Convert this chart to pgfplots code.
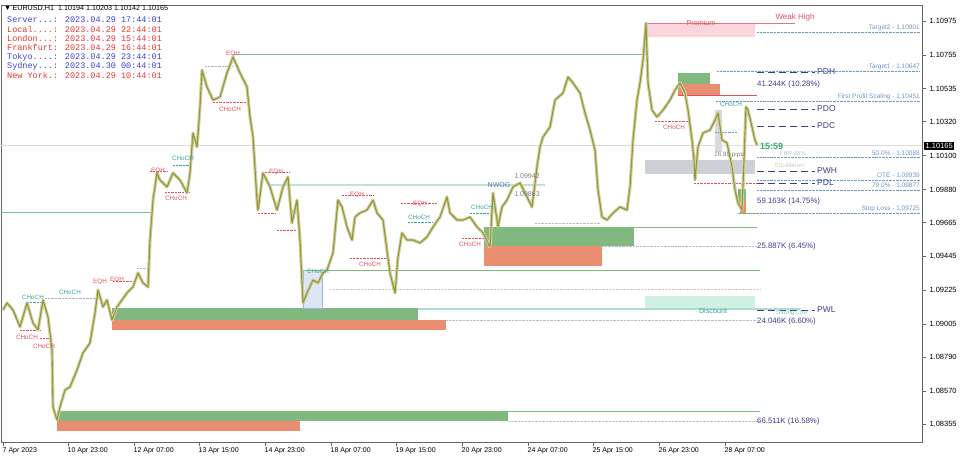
\documentclass[border=0pt]{standalone}
\usepackage{fontspec}
\setmainfont{Liberation Sans}
\newfontfamily\monof{Liberation Mono}
\usepackage{pgfplots}
\pgfplotsset{compat=1.18}
\definecolor{candle}{RGB}{150,150,55}
\definecolor{zgreen}{RGB}{128,184,128}
\definecolor{zsalmon}{RGB}{234,142,114}
\definecolor{zpink}{RGB}{250,214,220}
\definecolor{zmint}{RGB}{208,240,225}
\definecolor{zgrey}{RGB}{205,209,215}
\definecolor{zblue}{RGB}{220,230,245}
\definecolor{lteal}{RGB}{110,190,175}
\definecolor{lgreen}{RGB}{120,190,120}
\definecolor{lred}{RGB}{225,80,95}
\definecolor{tealtxt}{RGB}{50,165,155}
\definecolor{steel}{RGB}{110,150,200}
\definecolor{pdblue}{RGB}{60,60,140}
\definecolor{srvblue}{RGB}{60,60,230}
\definecolor{srvred}{RGB}{235,50,50}
\definecolor{clockgreen}{RGB}{50,170,100}
\newcommand{\zone}[5]{\addplot[draw=none,fill=#5,forget plot] coordinates {(#1,#2) (#3,#2) (#3,#4) (#1,#4)} -- cycle;}
\newcommand{\hl}[4]{\addplot[#4,forget plot] coordinates {(#1,#3) (#2,#3)};}
\pgfplotstableread{
x p
3 1.09096
7 1.09142
13 1.09096
20 1.08986
27 1.09142
33 1.09012
38 1.08966
43 1.09161
48 1.09051
52 1.08836
53 1.08466
57 1.08381
60 1.08466
65 1.08576
70 1.08596
77 1.08706
83 1.08817
90 1.08882
95 1.09077
98 1.09226
103 1.09116
107 1.09161
112 1.09031
117 1.09116
127 1.09207
133 1.09246
138 1.09337
143 1.09272
148 1.09246
150 1.09551
153 1.09811
157 1.09987
160 1.09941
167 1.09896
173 1.09987
180 1.09941
187 1.09857
190 1.09987
193 1.10247
197 1.10156
200 1.10416
202 1.10656
207 1.10546
213 1.10461
220 1.10481
227 1.10637
233 1.10741
240 1.10637
247 1.10546
250 1.10351
253 1.10221
257 1.09811
258 1.09746
263 1.09987
270 1.09896
277 1.09746
283 1.09896
288 1.09961
292 1.09662
297 1.09811
300 1.09551
303 1.09142
307 1.09207
313 1.09291
318 1.09272
323 1.09337
327 1.09356
333 1.09467
338 1.09811
342 1.09766
347 1.09636
352 1.09551
355 1.09701
360 1.09727
367 1.09746
373 1.09811
377 1.09727
383 1.09681
390 1.09337
395 1.09207
398 1.09441
402 1.09597
407 1.09551
413 1.09551
420 1.09532
427 1.09571
433 1.09636
440 1.09701
447 1.09831
450 1.09727
457 1.09681
463 1.09681
470 1.09701
477 1.09636
483 1.09597
490 1.09506
493 1.09857
498 1.09636
502 1.09766
507 1.09811
513 1.09896
520 1.09922
527 1.09831
532 1.09766
537 1.10026
540 1.10156
543 1.10221
550 1.10286
555 1.10461
563 1.10507
568 1.10611
573 1.10572
580 1.10507
585 1.10377
590 1.10266
595 1.10136
598 1.09876
602 1.09701
607 1.09681
613 1.09727
620 1.09766
627 1.09746
630 1.09896
633 1.10201
637 1.10461
640 1.10572
643 1.10721
646 1.10962
648 1.10572
652 1.10396
657 1.10351
663 1.10396
670 1.10461
675 1.10526
680 1.10572
685 1.10507
688 1.10396
692 1.10201
694 1.10071
695 1.09941
698 1.10156
703 1.10247
710 1.10266
715 1.10331
718 1.10377
722 1.10201
727 1.10182
732 1.10026
735 1.09876
738 1.09792
742 1.09746
744 1.10071
746 1.10416
748 1.10396
752 1.10286
755 1.10201
757 1.10169
}\pricedata
\begin{document}
\begin{tikzpicture}
\begin{axis}[
  at={(0pt,0pt)}, anchor=south west,
  scale only axis, width=921pt, height=437pt,
  xmin=1, xmax=922, ymin=1.08238, ymax=1.11079,
  axis line style={draw=gray!80!black, line width=0.6pt},
  ytick pos=right, yticklabel pos=right,
  xtick pos=bottom,
  tick align=outside, major tick length=4pt,
  tick style={gray!80!black, line width=0.5pt},
  ytick={1.08355,1.08570,1.08790,1.09005,1.09225,1.09445,1.09665,1.09880,1.10100,1.10320,1.10535,1.10755,1.10975},
  yticklabels={1.08355,1.08570,1.08790,1.09005,1.09225,1.09445,1.09665,1.09880,1.10100,1.10320,1.10535,1.10755,1.10975},
  xtick={3,68,134,199,265,331,396,462,528,593,659,725},
  xticklabels={7 Apr 2023,10 Apr 23:00,12 Apr 07:00,13 Apr 15:00,14 Apr 23:00,18 Apr 07:00,19 Apr 15:00,20 Apr 23:00,24 Apr 07:00,25 Apr 15:00,26 Apr 23:00,28 Apr 07:00},
  xticklabel style={anchor=north west, xshift=-2pt, font=\fontsize{7}{8}\selectfont, inner sep=1.5pt},
  yticklabel style={font=\fontsize{7.5}{8}\selectfont, xshift=0pt},
]
% zones
\zone{112}{1.09109}{418}{1.09031}{zgreen}
\zone{112}{1.09031}{446}{1.08966}{zsalmon}
\zone{57}{1.08440}{508}{1.08375}{zgreen}
\zone{57}{1.08375}{300}{1.08310}{zsalmon}
\zone{484}{1.09636}{634}{1.09512}{zgreen}
\zone{484}{1.09512}{602}{1.09382}{zsalmon}
\addplot[draw=steel!70,fill=zblue,forget plot] coordinates {(303,1.09356) (322,1.09356) (322,1.09109) (303,1.09109)} -- cycle;
\zone{645}{1.10962}{755}{1.10871}{zpink}
\zone{678}{1.10637}{710}{1.10565}{zgreen}
\zone{678}{1.10565}{720}{1.10494}{zsalmon}
\zone{645}{1.10071}{755}{1.09980}{zgrey}
\zone{715}{1.10396}{722}{1.10123}{zgrey!80}
\zone{738}{1.09883}{746}{1.09779}{zgreen}
\zone{740}{1.09811}{746}{1.09727}{zsalmon}
\zone{645}{1.09187}{755}{1.09109}{zmint}
% structural lines
\hl{1}{922}{1.10165}{gray!30, line width=0.8pt}
\hl{1}{152}{1.09733}{lteal, line width=0.8pt}
\hl{233}{645}{1.10760}{lteal, line width=0.8pt}
\hl{270}{545}{1.09909}{lteal!45, line width=1.8pt}
\hl{305}{760}{1.09356}{lgreen, line width=0.8pt}
\hl{484}{757}{1.09636}{lgreen, line width=0.8pt}
\hl{418}{800}{1.09102}{lteal!55, line width=1.6pt}
\hl{57}{760}{1.08440}{lgreen, line width=0.8pt}
\hl{645}{795}{1.10962}{lred!80, line width=0.8pt}
\hl{678}{757}{1.10494}{lred, line width=0.8pt}
\hl{738}{757}{1.09727}{lgreen, line width=0.8pt}
% right-side dotted levels
\hl{757}{920}{1.10901}{steel, densely dotted}
\hl{717}{920}{1.10647}{steel, densely dotted}
\hl{757}{920}{1.10451}{steel, densely dotted}
\hl{757}{920}{1.10088}{steel, densely dotted}
\hl{757}{920}{1.09939}{steel, densely dotted}
\hl{757}{920}{1.09877}{steel, densely dotted}
\hl{757}{920}{1.09725}{steel, densely dotted}
\hl{602}{757}{1.09512}{steel!60, densely dotted}
\hl{330}{760}{1.09233}{gray!40, densely dotted}
\hl{446}{757}{1.09031}{gray!50, densely dotted}
\hl{508}{760}{1.08375}{gray!50, densely dotted}
% PD dashed levels
\hl{757}{815}{1.10643}{pdblue, line width=0.8pt, dash pattern=on 7pt off 4pt}
\hl{757}{815}{1.10403}{pdblue, line width=0.8pt, dash pattern=on 7pt off 4pt}
\hl{757}{815}{1.10292}{pdblue, line width=0.8pt, dash pattern=on 7pt off 4pt}
\hl{757}{815}{1.10000}{pdblue, line width=0.8pt, dash pattern=on 7pt off 4pt}
\hl{757}{815}{1.09922}{pdblue, line width=0.8pt, dash pattern=on 7pt off 4pt}
\hl{757}{815}{1.09096}{pdblue, line width=0.8pt, dash pattern=on 7pt off 4pt}
% small structure dotted lines
\hl{205}{232}{1.10682}{gray!60, densely dotted}
\hl{213}{248}{1.10448}{lred, densely dotted}
\hl{173}{190}{1.10039}{tealtxt, densely dotted}
\hl{150}{167}{1.10000}{lred, densely dotted}
\hl{165}{190}{1.09863}{lred, densely dotted}
\hl{262}{290}{1.09993}{lred, densely dotted}
\hl{258}{275}{1.09727}{lred, densely dotted}
\hl{277}{296}{1.09616}{lred, densely dotted}
\hl{137}{148}{1.09369}{gray!60, densely dotted}
\hl{27}{40}{1.09148}{tealtxt, densely dotted}
\hl{45}{97}{1.09174}{gray!60, densely dotted}
\hl{20}{40}{1.08966}{lred, densely dotted}
\hl{40}{50}{1.08914}{lred, densely dotted}
\hl{113}{133}{1.09285}{lred, densely dotted}
\hl{342}{373}{1.09844}{lred, densely dotted}
\hl{350}{388}{1.09434}{lred, densely dotted}
\hl{401}{437}{1.09792}{lred, densely dotted}
\hl{408}{433}{1.09668}{tealtxt, densely dotted}
\hl{470}{493}{1.09727}{tealtxt, densely dotted}
\hl{462}{490}{1.09564}{lred, densely dotted}
\hl{535}{600}{1.09662}{gray!50, densely dotted}
\hl{655}{690}{1.10325}{lred, densely dotted}
\hl{716}{757}{1.10455}{steel, densely dotted}
\hl{715}{737}{1.10253}{steel, densely dotted}
\hl{694}{757}{1.09922}{lred, densely dotted}
% price
\addplot[candle!45, line width=3.2pt, line join=round, forget plot] table[x=x,y=p] {\pricedata};
\addplot[candle, line width=1.1pt, line join=round, forget plot] table[x=x,y=p] {\pricedata};
\end{axis}
% text labels, positioned in image pixels
\begin{scope}[x=1pt, y=-1pt, shift={(-1pt,442pt)}]
\node[anchor=west, font=\fontsize{7.2}{8}\selectfont, inner sep=0pt] at (4,8) {▼\,EURUSD,H1\ \ 1.10194 1.10203 1.10142 1.10165};
\begin{scope}[every node/.style={anchor=west, inner sep=0pt, font=\monof\fontsize{8.5}{9}\selectfont}]
\node[text=srvblue] at (7,20) {Server...: 2023.04.29 17:44:01};
\node[text=srvred] at (7,29) {Local....: 2023.04.29 22:44:01};
\node[text=srvred] at (7,38) {London...: 2023.04.29 15:44:01};
\node[text=srvred] at (7,47.5) {Frankfurt: 2023.04.29 16:44:01};
\node[text=srvblue] at (7,57) {Tokyo....: 2023.04.29 23:44:01};
\node[text=srvblue] at (7,66) {Sydney...: 2023.04.30 00:44:01};
\node[text=srvred] at (7,75) {New York.: 2023.04.29 10:44:01};
\end{scope}
\begin{scope}[every node/.style={inner sep=0pt, font=\fontsize{6.3}{7}\selectfont}]
\node[text=lred] at (233,54) {EQH};
\node[text=lred] at (230,109) {CHoCH};
\node[text=tealtxt] at (183,158) {CHoCH};
\node[text=lred] at (158,171) {EQH};
\node[text=lred] at (176,198) {CHoCH};
\node[text=lred] at (276,172) {EQH};
\node[text=tealtxt] at (318,271) {CHoCH};
\node[text=lred] at (100,282) {EQH};
\node[text=lred] at (117,280) {EQH};
\node[text=tealtxt] at (70,292) {CHoCH};
\node[text=tealtxt] at (33,297) {CHoCH};
\node[text=lred] at (27,337) {CHoCH};
\node[text=lred] at (44,346) {CHoCH};
\node[text=lred] at (357,195) {EQH};
\node[text=lred] at (370,264) {CHoCH};
\node[text=lred] at (420,204) {EQH};
\node[text=tealtxt] at (419,217) {CHoCH};
\node[text=tealtxt] at (482,207) {CHoCH};
\node[text=lred] at (470,244) {CHoCH};
\node[text=lred] at (674,127) {CHoCH};
\node[text=tealtxt] at (731,104) {CHoCH};
\end{scope}
\node[text=steel!80!black, font=\fontsize{7}{8}\selectfont, inner sep=0pt] at (499,185) {NWOG};
\node[text=gray, font=\fontsize{7}{8}\selectfont, inner sep=0pt] at (527,176) {1.09942};
\node[text=gray, font=\fontsize{7}{8}\selectfont, inner sep=0pt] at (527,194) {1.09863};
\node[text=gray, font=\fontsize{6.3}{7}\selectfont, inner sep=0pt] at (729,155) {26.80 pips};
\node[text=lred, font=\fontsize{7.2}{8}\selectfont, inner sep=0pt] at (701,23) {Premium};
\node[text=lred, font=\fontsize{8}{9}\selectfont, inner sep=0pt] at (795,17) {Weak High};
\node[text=tealtxt, font=\fontsize{7.2}{8}\selectfont, inner sep=0pt] at (713,311) {Discount};
\node[text=gray!40, font=\fontsize{6}{7}\selectfont, inner sep=0pt, anchor=west] at (775,166) {Equilibrium};
\node[text=gray!50, font=\fontsize{6}{7}\selectfont, inner sep=0pt, anchor=west] at (780,153) {FBR 45\%};
\node[text=tealtxt!60, font=\fontsize{6.2}{7}\selectfont, inner sep=0pt, anchor=west] at (776,312.5) {Strong Low};
% right-hand level labels
\begin{scope}[every node/.style={anchor=east, inner sep=0pt, text=steel, font=\fontsize{6.5}{7}\selectfont}]
\node at (920,28) {Target2 - 1.10901};
\node at (920,67) {Target1 - 1.10647};
\node at (920,97) {First Profit Scaling - 1.10451};
\node at (920,153) {50.0\% - 1.10088};
\node at (920,175.5) {OTE - 1.09939};
\node at (920,185) {79.0\% - 1.09877};
\node at (920,209) {Stop Loss - 1.09725};
\end{scope}
\begin{scope}[every node/.style={anchor=west, inner sep=0pt, text=pdblue, font=\fontsize{8.5}{9}\selectfont}]
\node at (817,72) {PDH};
\node at (817,109) {PDO};
\node at (817,126) {PDC};
\node at (817,171) {PWH};
\node at (817,183) {PDL};
\node at (817,310) {PWL};
\end{scope}
\begin{scope}[every node/.style={anchor=west, inner sep=0pt, text=pdblue, font=\fontsize{7.8}{9}\selectfont}]
\node at (757,84) {41.244K (10.28\%)};
\node at (757,201) {59.163K (14.75\%)};
\node at (757,246) {25.887K (6.45\%)};
\node at (757,321) {24.046K (6.60\%)};
\node at (757,421) {66.511K (16.58\%)};
\end{scope}
\node[anchor=west, inner sep=0pt, text=clockgreen, font=\bfseries\fontsize{9}{10}\selectfont] at (760,146) {15:59};
\node[anchor=west, fill=black, text=white, inner xsep=1.5pt, inner ysep=1.5pt, font=\fontsize{7.5}{8}\selectfont] at (924,146) {1.10165};
\end{scope}
\pgfresetboundingbox
\useasboundingbox (-1pt,-15pt) rectangle (959pt,442pt);
\end{tikzpicture}
\end{document}
